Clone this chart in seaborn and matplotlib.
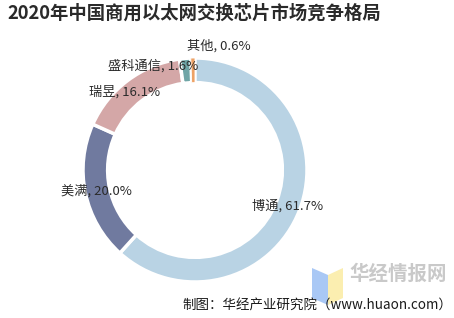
import numpy as np
import matplotlib
matplotlib.use("Agg")
import matplotlib.pyplot as plt
import seaborn as sns
from matplotlib.patches import Polygon

# ---- data ----
companies = ["博通", "美满", "瑞昱", "盛科通信", "其他"]
shares = [61.7, 20.0, 16.1, 1.6, 0.6]
colors = ["#b9d3e4", "#707a9f", "#d4a7a7", "#6fa5a6", "#eea265"]
title = "2020年中国商用以太网交换芯片市场竞争格局"
source = "制图：华经产业研究院（www.huaon.com）"

# label placement styles: (radius, angle offset in degrees)
label_style = [(0.885, 0), (0.90, 0), (0.94, 5), (1.0, 17), (1.13, -12)]
edge_widths = [2.5, 2.5, 2.5, 2.5, 0.6]

sns.set_theme(style="white")
plt.rcParams["font.family"] = ["Noto Sans CJK SC", "DejaVu Sans"]

W, H = 454, 318
fig = plt.figure(figsize=(W / 100, H / 100), dpi=100)
fig.patch.set_facecolor("white")

cx, cy, R = 195, 170, 112
ax = fig.add_axes([(cx - R) / W, (H - cy - R) / H, 2 * R / W, 2 * R / H])

wedges, _ = ax.pie(shares, colors=sns.color_palette(colors), startangle=90,
                   counterclock=False, radius=1.0,
                   wedgeprops=dict(width=0.22, edgecolor="white", linewidth=2.5))
for w, lw in zip(wedges, edge_widths):
    w.set_linewidth(lw)
ax.set_xlim(-1, 1)
ax.set_ylim(-1, 1)
ax.set_aspect("equal")
ax.axis("off")

for w, name, val, (rd, off) in zip(wedges, companies, shares, label_style):
    ang = np.deg2rad((w.theta1 + w.theta2) / 2 + off)
    ax.text(rd * np.cos(ang), rd * np.sin(ang), f"{name}, {val:.1f}%",
            ha="center", va="center", fontsize=9.5, color="#2b2b2b", zorder=5)

fig.text(7 / W, 1 - 13 / H, title, ha="left", va="center", fontsize=13.2,
         fontweight="bold", color="#2a2a2a")

# watermark logo (decorative)
fig.patches.append(Polygon([[312 / W, 1 - 268 / H], [328 / W, 1 - 275 / H],
                            [328 / W, 1 - 305 / H], [312 / W, 1 - 298 / H]],
                           closed=True, transform=fig.transFigure,
                           facecolor="#a9c8f5", edgecolor="none"))
fig.patches.append(Polygon([[328 / W, 1 - 275 / H], [343 / W, 1 - 268 / H],
                            [343 / W, 1 - 298 / H], [328 / W, 1 - 305 / H]],
                           closed=True, transform=fig.transFigure,
                           facecolor="#fbeeb0", edgecolor="none"))
fig.text(349 / W, 1 - 274 / H, "华经情报网", ha="left", va="center",
         fontsize=14, fontweight="bold", color="#c9c9c9")

fig.text(452 / W, 1 - 306 / H, source, ha="right", va="center", fontsize=9.7,
         color="#1a1a1a")

fig.savefig("out.png", dpi=100, facecolor="white")
